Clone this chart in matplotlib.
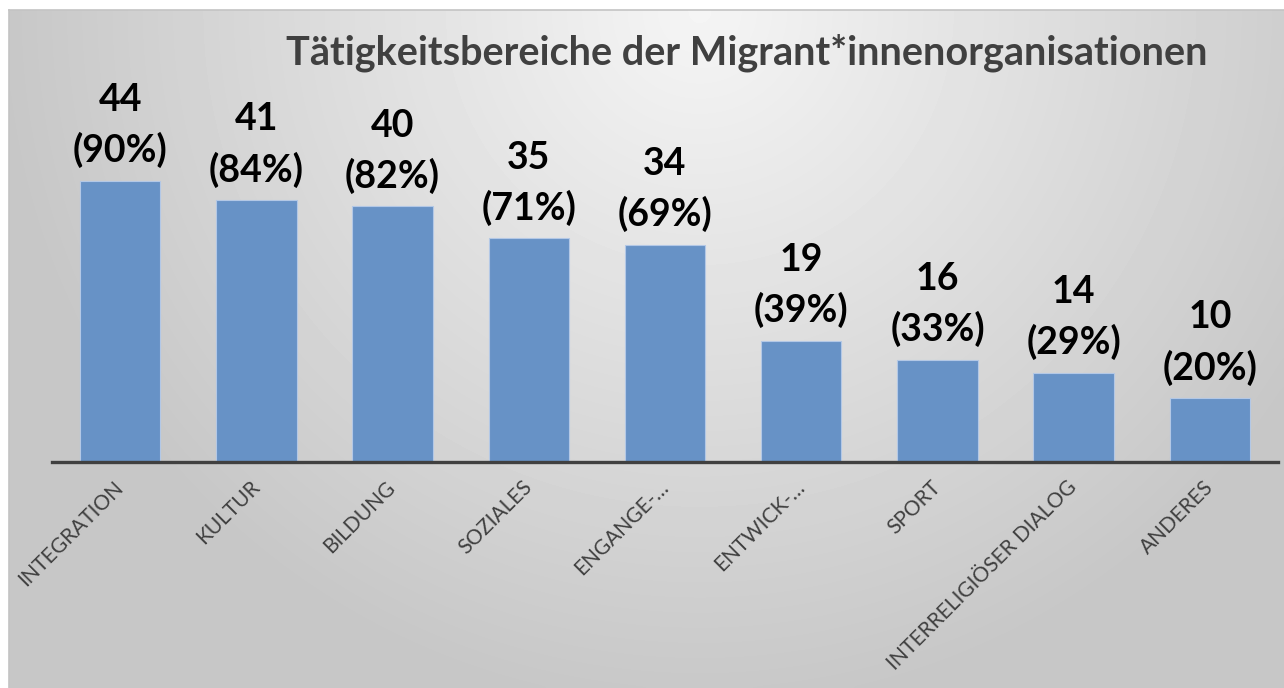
import matplotlib
matplotlib.use("Agg")
import matplotlib.pyplot as plt
import numpy as np

categories = [
    "INTEGRATION",
    "KULTUR",
    "BILDUNG",
    "SOZIALES",
    "ENGANGE-…",
    "ENTWICK-…",
    "SPORT",
    "INTERRELIGIÖSER DIALOG",
    "ANDERES",
]
counts = [44, 41, 40, 35, 34, 19, 16, 14, 10]
percents = [90, 84, 82, 71, 69, 39, 33, 29, 20]
title = "Tätigkeitsbereiche der Migrant*innenorganisationen"

W, H = 1284, 688
fig = plt.figure(figsize=(W / 100, H / 100), dpi=100, facecolor="white")

# gradient background panel
bg = fig.add_axes([9 / W, 0, (W - 9) / W, (H - 10) / H])
yy, xx = np.mgrid[0:200, 0:400]
px = 9 + xx / 399 * (W - 9)
py = 10 + yy / 199 * (H - 10)
r = np.sqrt(((px - 700) / 700) ** 2 + ((py - 10) / 700) ** 2)
shade = 0.96 - 0.18 * np.clip(r, 0, 1)
bg.imshow(shade, cmap="gray", vmin=0, vmax=1, aspect="auto",
          extent=[0, 1, 0, 1], interpolation="bicubic")
bg.set_xlim(0, 1)
bg.set_ylim(0, 1)
bg.set_xticks([])
bg.set_yticks([])
for side in ["bottom", "right"]:
    bg.spines[side].set_visible(False)
for side in ["top", "left"]:
    bg.spines[side].set_color("#c4c4c4")
    bg.spines[side].set_linewidth(1.2)

ax = fig.add_axes([52 / W, (H - 462) / H, (1278 - 52) / W, 383.4 / H])
ax.patch.set_alpha(0)
x = np.arange(len(categories))
bars = ax.bar(x, counts, width=0.59, color="#6792C6", edgecolor="#b3c8e6",
              linewidth=0.8)
ax.set_xlim(-0.5, len(categories) - 0.5)
ax.set_ylim(0, 60)

for xi, c, p in zip(x, counts, percents):
    ax.annotate(f"{c}\n({p}%)", (xi, c), xytext=(0, 9), textcoords="offset points",
                ha="center", va="bottom", fontsize=27, fontweight="bold",
                family="Lato", color="black", linespacing=1.5, clip_on=False)

ax.set_yticks([])
ax.set_xticks(x)
ax.set_xticklabels(categories, rotation=45, ha="right", va="center",
                   rotation_mode="anchor", fontsize=15, family="Lato",
                   color="#404040")
ax.tick_params(axis="x", length=0, pad=16)
for side in ["top", "right", "left"]:
    ax.spines[side].set_visible(False)
ax.spines["bottom"].set_color("#404040")
ax.spines["bottom"].set_linewidth(2.4)

fig.text(747 / W, 1 - 53 / H, title, ha="center", va="center", fontsize=28.5,
         fontweight="bold", family="Lato", color="#404040")

fig.savefig("out.png", dpi=100)
